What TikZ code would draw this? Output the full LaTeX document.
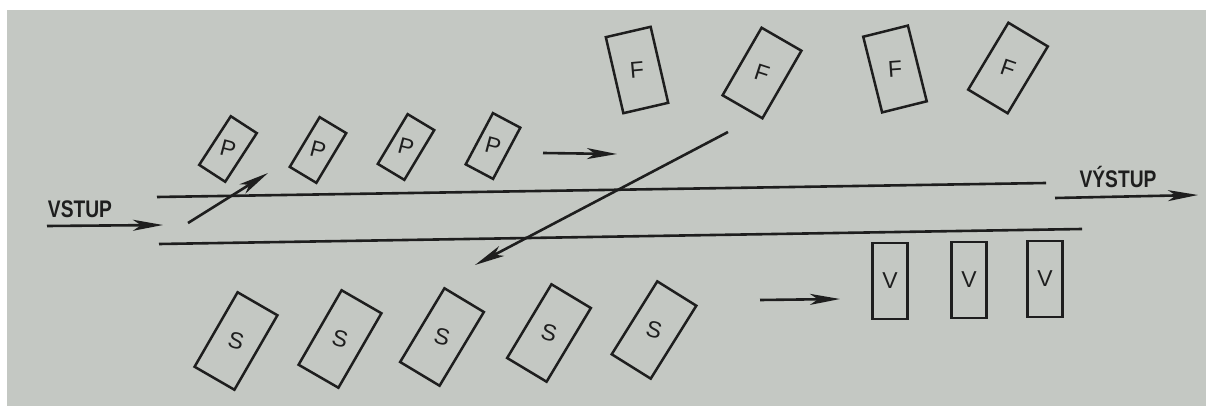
\documentclass[tikz,border=0pt]{standalone}
\usepackage{fontspec}
\usepackage{graphicx}
\setmainfont{Liberation Sans}
\usetikzlibrary{arrows.meta}
\definecolor{paper}{RGB}{196,200,195}
\definecolor{ink}{RGB}{30,30,30}
\newcommand{\tl}[2]{\rotatebox{#1}{#2}}
\begin{document}
\begin{tikzpicture}[x=1pt,y=-1pt,
  every node/.style={text=ink},
  card/.style={draw=ink, line width=2.5pt, inner sep=0pt, font=\fontsize{23}{23}\selectfont},
  pcard/.style={card, minimum width=31pt, minimum height=58pt},
  fcard/.style={card, minimum width=46pt, minimum height=78pt},
  scard/.style={card, minimum width=46pt, minimum height=86pt},
  vcard/.style={card, minimum width=35pt, minimum height=76pt},
  flow/.style={draw=ink, line width=2.6pt},
  arr/.style={flow, -{Stealth[length=30pt,width=11pt,inset=8pt]}},
  lab/.style={font=\bfseries\fontsize{24}{24}\selectfont, xscale=0.8, inner sep=0pt}
]
\useasboundingbox (0,0) rectangle (1206,406);
\fill[white] (0,0) rectangle (1206,406);
\fill[paper] (7,10) rectangle (1206,406);

% channel
\coordinate (t1) at (157,197);
\coordinate (t2) at (1046,183);
\coordinate (b1) at (159,244);
\coordinate (b2) at (1082,229);
\draw[flow] (t1) -- (t2);
\draw[flow] (b1) -- (b2);

% labels
\node[lab] (vstup) at (80,209) {VSTUP};
\node[lab] (vystup) at (1118,177) {VÝSTUP};

% P row
\node[pcard, rotate=-33] (p1) at (228,149) {\tl{18}{P}};
\node[pcard, rotate=-31] (p2) at (318,150) {\tl{16}{P}};
\node[pcard, rotate=-31] (p3) at (406,147) {\tl{16}{P}};
\node[pcard, rotate=-28] (p4) at (493,146) {\tl{13}{P}};

% F row
\node[fcard, rotate=13] (f1) at (637,70) {\tl{-8}{F}};
\node[fcard, rotate=-30] (f2) at (762,73) {\tl{12}{F}};
\node[fcard, rotate=14] (f3) at (895,69) {\tl{-10}{F}};
\node[fcard, rotate=-31] (f4) at (1008,68) {\tl{12}{F}};

% S row
\node[scard, rotate=-30] (s1) at (236,341) {\tl{15}{S}};
\node[scard, rotate=-30] (s2) at (340,339) {\tl{15}{S}};
\node[scard, rotate=-31] (s3) at (442,337) {\tl{16}{S}};
\node[scard, rotate=-31] (s4) at (549,333) {\tl{16}{S}};
\node[scard, rotate=-32] (s5) at (654,330) {\tl{17}{S}};

% V row
\node[vcard] (v1) at (890,281) {V};
\node[vcard] (v2) at (969,280) {V};
\node[vcard] (v3) at (1045,279) {V};

% arrows
\coordinate (in1) at (47,226);
\coordinate (in2) at (163,225);
\draw[arr] (in1) -- (in2);

\coordinate (out1) at (1055,198);
\coordinate (out2) at (1198,195);
\draw[arr] (out1) -- (out2);

\coordinate (up1) at (188,223);
\coordinate (up2) at (268,173);
\draw[arr] (up1) -- (up2);

\coordinate (pf1) at (543,153);
\coordinate (pf2) at (617,154);
\draw[arr] (pf1) -- (pf2);

\coordinate (fs1) at (728,132);
\coordinate (fs2) at (475,265);
\draw[arr] (fs1) -- (fs2);

\coordinate (sv1) at (760,300);
\coordinate (sv2) at (840,299);
\draw[arr] (sv1) -- (sv2);
\end{tikzpicture}
\end{document}
